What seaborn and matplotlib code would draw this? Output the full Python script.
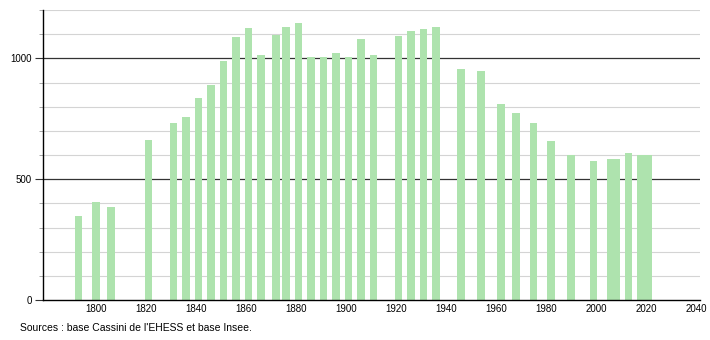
import matplotlib
matplotlib.use("Agg")
import matplotlib.pyplot as plt
import seaborn as sns
import pandas as pd
from matplotlib.ticker import MultipleLocator

years = [1793, 1800, 1806, 1821, 1831, 1836, 1841, 1846, 1851, 1856,
         1861, 1866, 1872, 1876, 1881, 1886, 1891, 1896, 1901, 1906,
         1911, 1921, 1926, 1931, 1936, 1946, 1954, 1962, 1968, 1975,
         1982, 1990, 1999, 2006, 2008, 2013, 2018, 2021]
population = [349, 406, 386, 664, 731, 759, 834, 888, 987, 1090,
              1124, 1015, 1097, 1129, 1148, 1004, 1007, 1021, 1007, 1080,
              1012, 1091, 1112, 1120, 1129, 957, 949, 812, 772, 732,
              658, 600, 575, 583, 583, 610, 600, 600]
x_ticks = [1800, 1820, 1840, 1860, 1880, 1900, 1920, 1940, 1960, 1980, 2000, 2020, 2040]
y_ticks = [0, 500, 1000]
source_text = "Sources : base Cassini de l'EHESS et base Insee."

df = pd.DataFrame({"year": years, "pop": population})

sns.set_style("white")
plt.rcParams['font.family'] = ['Liberation Sans', 'DejaVu Sans']
plt.rcParams['text.color'] = 'black'
plt.rcParams['xtick.color'] = 'black'
plt.rcParams['ytick.color'] = 'black'

fig = plt.figure(figsize=(7.1, 3.4), dpi=100)
ax = fig.add_axes([43/710, 40/340, 657/710, 290/340])

# grid
for v in range(100, 1201, 100):
    if v % 500 == 0:
        ax.axhline(v, color='#333333', lw=0.9, zorder=0)
    else:
        ax.axhline(v, color='#d4d4d4', lw=0.8, zorder=0)

sns.barplot(data=df, x="year", y="pop", native_scale=True, width=1.6,
            color='#aee3ae', saturation=1, ax=ax, zorder=2, linewidth=0)

ax.set_xlim(1778.8, 2041.6)
ax.set_ylim(0, 1200)
ax.set_xticks(x_ticks)
ax.set_xticklabels([str(t) for t in x_ticks])
ax.set_yticks(y_ticks)
ax.yaxis.set_minor_locator(MultipleLocator(100))
ax.set_xlabel("")
ax.set_ylabel("")

for s in ['top', 'right']:
    ax.spines[s].set_visible(False)
ax.spines['left'].set_color('black')
ax.spines['bottom'].set_color('black')
ax.spines['left'].set_linewidth(1.0)
ax.spines['bottom'].set_linewidth(1.0)

ax.tick_params(axis='y', which='major', length=6, width=0.8, color='#333333',
               labelsize=7, pad=2, left=True, labelcolor='black')
ax.tick_params(axis='y', which='minor', length=3, width=0.6, color='#999999', left=True)
ax.tick_params(axis='x', which='major', length=0, labelsize=7, pad=3, bottom=True,
               labelcolor='black')

fig.text(20/710, 1 - 328/340, source_text, fontsize=7.5, va='center', ha='left',
         color='black')

fig.savefig("out.png", dpi=100)
